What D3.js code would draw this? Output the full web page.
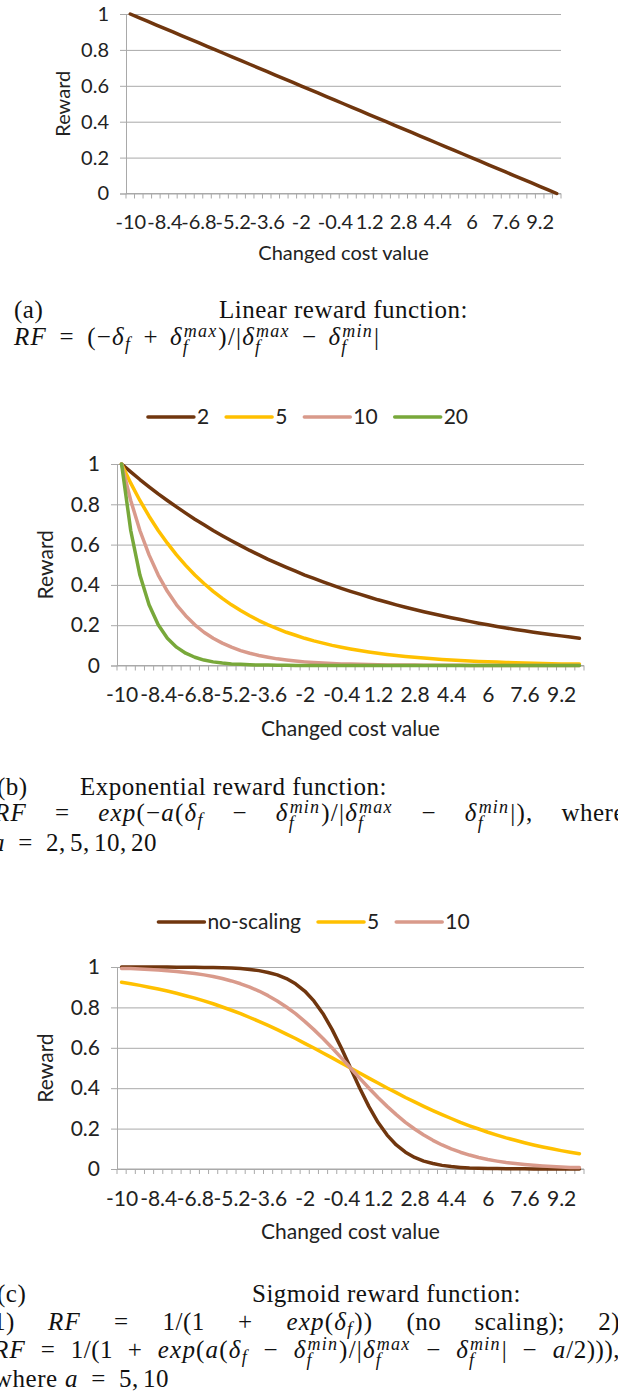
<!DOCTYPE html>
<html>
<head>
<meta charset="utf-8">
<script src="https://cdn.jsdelivr.net/npm/d3@7"></script>
<style>
  body { margin: 0; background: #fff; }
  svg { display: block; }
</style>
</head>
<body>
<svg id="fig" width="618" height="1393"></svg>
<script>
// ---- data -------------------------------------------------------------
const costValues = [-10, -9.6, -9.2, -8.8, -8.4, -8, -7.6, -7.2, -6.8, -6.4, -6, -5.6, -5.2, -4.8, -4.4, -4,
  -3.6, -3.2, -2.8, -2.4, -2, -1.6, -1.2, -0.8, -0.4, 0, 0.4, 0.8, 1.2, 1.6, 2, 2.4, 2.8, 3.2, 3.6, 4,
  4.4, 4.8, 5.2, 5.6, 6, 6.4, 6.8, 7.2, 7.6, 8, 8.4, 8.8, 9.2, 9.6, 10];
const costTickLabels = ["-10", "-8.4", "-6.8", "-5.2", "-3.6", "-2", "-0.4", "1.2", "2.8", "4.4", "6", "7.6", "9.2"];
const rewardTicks = [0, 0.2, 0.4, 0.6, 0.8, 1];

// (a) linear reward
const linearReward = [1, 0.98, 0.96, 0.94, 0.92, 0.9, 0.88, 0.86, 0.84, 0.82, 0.8, 0.78, 0.76, 0.74, 0.72, 0.7,
  0.68, 0.66, 0.64, 0.62, 0.6, 0.58, 0.56, 0.54, 0.52, 0.5, 0.48, 0.46, 0.44, 0.42, 0.4, 0.38, 0.36, 0.34,
  0.32, 0.3, 0.28, 0.26, 0.24, 0.22, 0.2, 0.18, 0.16, 0.14, 0.12, 0.1, 0.08, 0.06, 0.04, 0.02, 0];

// (b) exponential reward, a = 2, 5, 10, 20
const expLabels = ["2", "5", "10", "20"];
const expA2 = [1, 0.961, 0.923, 0.887, 0.852, 0.819, 0.787, 0.756, 0.726, 0.698, 0.670, 0.644, 0.619, 0.595,
  0.571, 0.549, 0.527, 0.507, 0.487, 0.468, 0.449, 0.432, 0.415, 0.399, 0.383, 0.368, 0.354, 0.340, 0.326,
  0.314, 0.301, 0.289, 0.278, 0.267, 0.257, 0.247, 0.237, 0.228, 0.219, 0.210, 0.202, 0.194, 0.186, 0.179,
  0.172, 0.165, 0.159, 0.153, 0.147, 0.141, 0.135];
const expA5 = [1, 0.905, 0.819, 0.741, 0.670, 0.607, 0.549, 0.497, 0.449, 0.407, 0.368, 0.333, 0.301, 0.273,
  0.247, 0.223, 0.202, 0.183, 0.165, 0.150, 0.135, 0.122, 0.111, 0.100, 0.091, 0.082, 0.074, 0.067, 0.061,
  0.055, 0.050, 0.045, 0.041, 0.037, 0.033, 0.030, 0.027, 0.025, 0.022, 0.020, 0.018, 0.017, 0.015, 0.014,
  0.012, 0.011, 0.010, 0.009, 0.008, 0.007, 0.007];
const expA10 = [1, 0.819, 0.670, 0.549, 0.449, 0.368, 0.301, 0.247, 0.202, 0.165, 0.135, 0.111, 0.091, 0.074,
  0.061, 0.050, 0.041, 0.033, 0.027, 0.022, 0.018, 0.015, 0.012, 0.010, 0.008, 0.007, 0.006, 0.005, 0.004,
  0.003, 0.002, 0.002, 0.002, 0.001, 0.001, 0.001, 0.001, 0.001, 0, 0, 0, 0, 0, 0, 0, 0, 0, 0, 0, 0, 0];
const expA20 = [1, 0.670, 0.449, 0.301, 0.202, 0.135, 0.091, 0.061, 0.041, 0.027, 0.018, 0.012, 0.008, 0.006,
  0.004, 0.002, 0.002, 0.001, 0.001, 0, 0, 0, 0, 0, 0, 0, 0, 0, 0, 0, 0, 0, 0, 0, 0, 0, 0, 0, 0, 0, 0, 0, 0,
  0, 0, 0, 0, 0, 0, 0, 0];

// (c) sigmoid reward: no scaling, a = 5, a = 10
const sigLabels = ["no-scaling", "5", "10"];
const sigNoScaling = [1, 1, 1, 1, 1, 1, 0.999, 0.999, 0.999, 0.998, 0.998, 0.996, 0.995, 0.992, 0.988, 0.982,
  0.973, 0.961, 0.943, 0.917, 0.881, 0.832, 0.769, 0.690, 0.599, 0.500, 0.401, 0.310, 0.231, 0.168, 0.119,
  0.083, 0.057, 0.039, 0.027, 0.018, 0.012, 0.008, 0.005, 0.004, 0.002, 0.002, 0.001, 0.001, 0.001, 0, 0, 0,
  0, 0, 0];
const sigA5 = [0.924, 0.917, 0.909, 0.900, 0.891, 0.881, 0.870, 0.858, 0.846, 0.832, 0.818, 0.802, 0.786,
  0.769, 0.750, 0.731, 0.711, 0.690, 0.668, 0.646, 0.622, 0.599, 0.574, 0.550, 0.525, 0.500, 0.475, 0.450,
  0.426, 0.401, 0.378, 0.354, 0.332, 0.310, 0.289, 0.269, 0.250, 0.231, 0.214, 0.198, 0.182, 0.168, 0.154,
  0.142, 0.130, 0.119, 0.109, 0.100, 0.091, 0.083, 0.076];
const sigA10 = [0.993, 0.992, 0.990, 0.988, 0.985, 0.982, 0.978, 0.973, 0.968, 0.961, 0.953, 0.943, 0.931,
  0.917, 0.900, 0.881, 0.858, 0.832, 0.802, 0.769, 0.731, 0.690, 0.646, 0.599, 0.550, 0.500, 0.450, 0.401,
  0.354, 0.310, 0.269, 0.231, 0.198, 0.168, 0.142, 0.119, 0.100, 0.083, 0.069, 0.057, 0.047, 0.039, 0.032,
  0.027, 0.022, 0.018, 0.015, 0.012, 0.010, 0.008, 0.007];

// ---- styles -----------------------------------------------------------
const BROWN = "#70360e", YELLOW = "#ffc000", PINK = "#d99a8b", GREEN = "#78a83a";
const GRID = "#a9a9a9", INK = "#222";
const SANS = "Lato, 'Open Sans', sans-serif";
const SERIF = "'Liberation Serif', 'Times New Roman', serif";

const svg = d3.select("#fig");

const panels = [
  { left: 126, right: 561, top: 14, bottom: 193.5, font: 20, rewardX: 63, tickY: 229, titleY: 260,
    legendY: null, legendX: 0,
    series: [{ name: "linear", values: linearReward, color: BROWN }] },
  { left: 117, right: 584, top: 464, bottom: 665.5, font: 21, rewardX: 46, tickY: 702, titleY: 736,
    legendY: 417, legendX: 308,
    series: [expA2, expA5, expA10, expA20].map((v, i) => ({ name: expLabels[i], values: v,
      color: [BROWN, YELLOW, PINK, GREEN][i] })) },
  { left: 117, right: 584, top: 967, bottom: 1169, font: 21, rewardX: 46, tickY: 1206, titleY: 1239,
    legendY: 922, legendX: 314,
    series: [sigNoScaling, sigA5, sigA10].map((v, i) => ({ name: sigLabels[i], values: v,
      color: [BROWN, YELLOW, PINK][i] })) }
];

function drawPanel(p) {
  const g = svg.append("g").attr("font-family", SANS).attr("fill", INK);
  const band = d3.scaleBand().domain(costValues.map(String)).range([p.left, p.right]);
  const x = d3.scalePoint().domain(costValues.map(String)).range([p.left, p.right]).padding(0.5);
  const y = d3.scaleLinear().domain([0, 1]).range([p.bottom, p.top]);

  // horizontal gridlines with outward ticks on the value axis
  const yAxis = g.append("g").attr("transform", `translate(${p.left},0)`)
    .call(d3.axisLeft(y).tickValues(rewardTicks).tickSize(6).tickPadding(11).tickFormat(d3.format("~g")));
  yAxis.select(".domain").attr("stroke", GRID);
  yAxis.selectAll(".tick line").attr("stroke", GRID).attr("x2", p.right - p.left).attr("x1", -6);
  yAxis.selectAll(".tick text").attr("font-size", p.font).attr("font-family", SANS).attr("fill", INK);

  // category axis: tick marks between categories, every fourth label
  const xAxis = g.append("g").attr("transform", `translate(0,${p.bottom})`)
    .call(d3.axisBottom(x).tickValues(costValues.map(String).filter(c => costTickLabels.includes(c)))
      .tickSize(0).tickPadding(0));
  xAxis.select(".domain").remove();
  xAxis.selectAll(".tick text").attr("font-size", p.font).attr("font-family", SANS).attr("fill", INK)
    .attr("dy", null).attr("y", p.tickY - p.bottom);
  const last = String(costValues[costValues.length - 1]);
  const bounds = costValues.map(c => band(String(c))).concat([band(last) + band.bandwidth()]);
  g.append("g").selectAll("line").data(bounds).join("line")
    .attr("x1", d => d).attr("x2", d => d).attr("y1", p.bottom).attr("y2", p.bottom + 5)
    .attr("stroke", GRID).attr("stroke-width", 1);
  g.append("line").attr("x1", p.left).attr("x2", p.right).attr("y1", p.bottom).attr("y2", p.bottom)
    .attr("stroke", GRID);

  // axis titles
  g.append("text").attr("transform", `translate(${p.rewardX},${(p.top + p.bottom) / 2}) rotate(-90)`)
    .attr("text-anchor", "middle").attr("dy", "0.35em").attr("font-size", p.font).text("Reward");
  g.append("text").attr("x", (p.left + p.right) / 2).attr("y", p.titleY).attr("text-anchor", "middle")
    .attr("font-size", p.font).text("Changed cost value");

  // series
  const line = d3.line().x((d, i) => x(String(costValues[i]))).y(d => y(d));
  g.append("g").selectAll("path").data(p.series).join("path")
    .attr("d", s => line(s.values)).attr("fill", "none").attr("stroke", s => s.color)
    .attr("stroke-width", 3.5).attr("stroke-linejoin", "round").attr("stroke-linecap", "round");

  // legend above the plot
  if (p.legendY !== null) {
    const lg = g.append("g");
    let cx = 0;
    p.series.forEach((s, i) => {
      if (i > 0) cx += 17;
      lg.append("line").attr("x1", cx).attr("x2", cx + 46).attr("y1", 0).attr("y2", 0)
        .attr("stroke", s.color).attr("stroke-width", 3.5).attr("stroke-linecap", "round");
      cx += 49;
      const t = lg.append("text").attr("x", cx).attr("dy", "0.35em").attr("font-size", p.font).text(s.name);
      cx += t.node().getComputedTextLength();
    });
    lg.attr("transform", `translate(${p.legendX - cx / 2},${p.legendY})`);
  }
}
panels.forEach(drawPanel);

// ---- captions with inline math ----------------------------------------
const CAP = 25;          // caption font size
const TEXT_LS = 0.5;     // letter spacing of running text and upright digits
const MATH_LS = 1.2;     // letter spacing of math italic material
const R = s => ({ k: "r", s }), T = s => ({ k: "t", s }), I = s => ({ k: "i", s });
const OP = s => ({ k: "op", s }), REL = s => ({ k: "rel", s });
const D = (sub, sup) => ({ k: "d", sub, sup }), SP = w => ({ k: "sp", w });

function put(g, s, x, y, size, italic, ls) {
  const t = g.append("text").attr("x", x).attr("y", y).attr("font-size", size)
    .attr("letter-spacing", ls).attr("font-style", italic ? "italic" : "normal").text(s);
  return t.node().getComputedTextLength();
}
function drawRun(g, items, size) {
  let x = 0;
  for (const it of items) {
    if (it.k === "sp") { x += it.w * size; continue; }
    if (it.k === "d") {
      x += put(g, "δ", x, 0, size, true, MATH_LS);
      const ss = size * 0.72;
      let w1 = 0, w2 = 0;
      if (it.sub) w1 = put(g, it.sub, x, size * (it.sup ? 0.3 : 0.2), ss, true, MATH_LS);
      if (it.sup) w2 = put(g, it.sup, x + 1, -size * 0.34, ss, true, MATH_LS) + 1;
      x += Math.max(w1, w2) + 1;
      continue;
    }
    const pad = it.k === "op" ? 0.45 : it.k === "rel" ? 0.5 : 0;
    x += pad * size;
    x += put(g, it.s, x, 0, size, it.k === "i", it.k === "t" ? TEXT_LS : MATH_LS);
    x += pad * size;
  }
  return x;
}
const cap = svg.append("g").attr("font-family", SERIF).attr("fill", "#111");
function placeRun(items, x, y) {
  const g = cap.append("g");
  drawRun(g, items, CAP);
  g.attr("transform", `translate(${x},${y})`);
}
function justify(segments, left, right, y) {
  const gs = segments.map(seg => { const g = cap.append("g"); return { g, w: drawRun(g, seg, CAP) }; });
  const total = d3.sum(gs, d => d.w);
  const gap = (right - left - total) / (gs.length - 1);
  let x = left;
  gs.forEach(d => { d.g.attr("transform", `translate(${x},${y})`); x += d.w + gap; });
}

// (a)
placeRun([T("(a)")], 14, 318);
placeRun([T("Linear reward function:")], 219, 318);
placeRun([I("RF"), REL("="), R("(−"), D("f"), OP("+"), D("f", "max"), R(")/|"), D("f", "max"), OP("−"),
  D("f", "min"), R("|")], 14, 345);

// (b)
placeRun([T("(b)")], -3, 795);
placeRun([T("Exponential reward function:")], 80, 795);
justify([[I("RF")], [R("=")], [I("exp"), R("(−"), I("a"), R("("), D("f")], [R("−")],
  [D("f", "min"), R(")/|"), D("f", "max")], [R("−")], [D("f", "min"), R("|),")], [T("where")]], -6, 625, 821);
placeRun([I("a"), REL("="), T("2,"), SP(0.17), T("5,"), SP(0.17), T("10,"), SP(0.17), T("20")], -8, 851);

// (c)
placeRun([T("(c)")], -3, 1302);
placeRun([T("Sigmoid reward function:")], 252, 1302);
justify([[T("1)")], [I("RF")], [R("=")], [T("1/(1")], [R("+")], [I("exp"), R("("), D("f"), R("))")],
  [T("(no")], [T("scaling);")], [T("2)")]], -7, 620, 1330);
justify([[I("RF")], [R("=")], [T("1/(1")], [R("+")], [I("exp"), R("("), I("a"), R("("), D("f")], [R("−")],
  [D("f", "min"), R(")/|"), D("f", "max")], [R("−")], [D("f", "min"), R("|")], [R("−")], [I("a"), T("/2))),")]],
  -7, 620, 1358);
placeRun([T("where"), SP(0.3), I("a"), REL("="), T("5,"), SP(0.17), T("10")], -6, 1387);
</script>
</body>
</html>
